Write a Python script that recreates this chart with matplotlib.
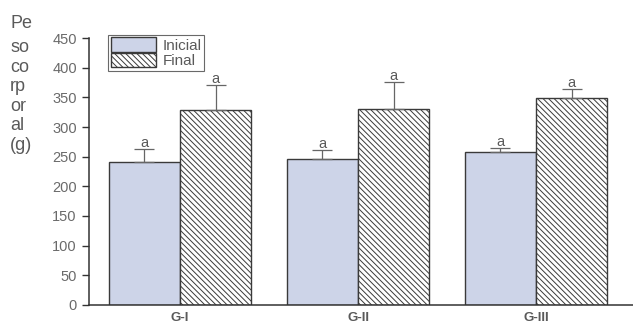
import numpy as np
import matplotlib
matplotlib.use("Agg")
import matplotlib.pyplot as plt

plt.rcParams['font.family'] = ['Liberation Sans', 'DejaVu Sans']
plt.rcParams['hatch.linewidth'] = 0.7

# body weight per group (g)
groups = ["G-I", "G-II", "G-III"]
inicial = [241, 246, 258]
inicial_err = [22, 15, 7]
final = [328, 330, 349]
final_err = [43, 46, 15]
letters_inicial = ["a", "a", "a"]
letters_final = ["a", "a", "a"]
yticks = [0, 50, 100, 150, 200, 250, 300, 350, 400, 450]

TXT = "#5a5a5a"
EDGE = "#3a3a3a"
W = 0.40

fig = plt.figure(figsize=(6.33, 3.23), dpi=100)
ax = fig.add_axes([0.141, 0.056, 0.859, 0.826])

x = np.arange(len(groups))
ax.bar(x - W / 2, inicial, W, color="#cdd4e8", edgecolor=EDGE, linewidth=1.0,
       label="Inicial")
ax.bar(x + W / 2, final, W, color="white", edgecolor=EDGE, linewidth=1.0,
       hatch="\\\\\\\\\\\\", label="Final")

# upper error bars only
ax.errorbar(x - W / 2, inicial, yerr=[np.zeros(3), inicial_err], fmt="none",
            ecolor="#666666", elinewidth=0.9, capsize=7, capthick=0.9)
ax.errorbar(x + W / 2, final, yerr=[np.zeros(3), final_err], fmt="none",
            ecolor="#666666", elinewidth=0.9, capsize=7, capthick=0.9)

for xi, v, e, t in zip(x - W / 2, inicial, inicial_err, letters_inicial):
    ax.text(xi, v + e - 2, t, ha="center", va="bottom", fontsize=10.5, color=TXT)
for xi, v, e, t in zip(x + W / 2, final, final_err, letters_final):
    ax.text(xi, v + e - 2, t, ha="center", va="bottom", fontsize=10.5, color=TXT)

ax.set_xlim(-0.51, 2.545)
ax.set_ylim(0, 450)
ax.set_yticks(yticks)
ax.set_xticks(x)
ax.set_xticklabels(groups, fontsize=9.5, fontweight="bold", color=TXT)
ax.tick_params(axis="x", length=0, pad=5)
ax.tick_params(axis="y", labelsize=10.5, labelcolor="#6a6a6a", color="#333333",
               length=5, width=1.0, pad=4)

for s in ["top", "right"]:
    ax.spines[s].set_visible(False)
for s in ["left", "bottom"]:
    ax.spines[s].set_color("#333333")
    ax.spines[s].set_linewidth(1.1)

leg = ax.legend(loc="upper left", bbox_to_anchor=(0.035, 1.012), fontsize=11,
                frameon=True, fancybox=False, handlelength=3.0, handleheight=1.1,
                labelspacing=0.0, borderpad=0.15, handletextpad=0.4,
                borderaxespad=0, labelcolor=TXT)
leg.get_frame().set_edgecolor("#444444")
leg.get_frame().set_linewidth(0.8)

# stacked y-axis label
fig.text(0.016, 1 - 23 / 323, "Pe", fontsize=13, color=TXT, va="center")
fig.text(0.016, 1 - 39 / 323, "so\nco\nrp\nor\nal\n(g)", fontsize=13,
         color=TXT, va="top", linespacing=1.2)

fig.savefig("out.png", dpi=100)
